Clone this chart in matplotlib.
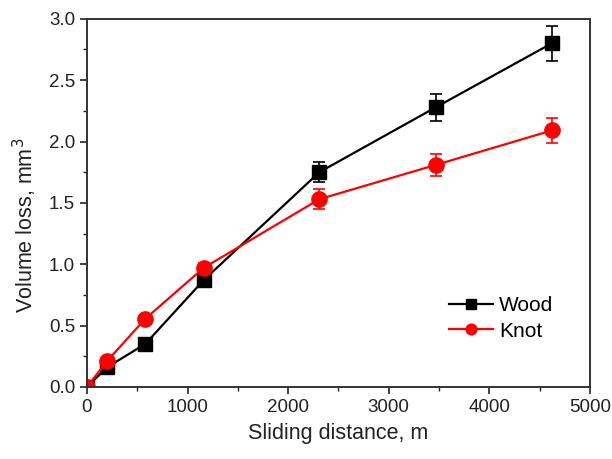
import numpy as np
import matplotlib.pyplot as plt
from matplotlib.ticker import MultipleLocator

plt.rcParams['font.family'] = ['Liberation Sans', 'DejaVu Sans']

distance = [0, 200, 580, 1160, 2310, 3470, 4620]
wood = [0.0, 0.16, 0.35, 0.87, 1.75, 2.28, 2.80]
wood_err = [0.0, 0.02, 0.03, 0.04, 0.08, 0.11, 0.14]
knot = [0.0, 0.21, 0.555, 0.97, 1.53, 1.81, 2.09]
knot_err = [0.0, 0.02, 0.03, 0.04, 0.08, 0.09, 0.105]

fig = plt.figure(figsize=(6.12, 4.59), dpi=100)
ax = fig.add_axes([0.142, 0.157, 0.822, 0.802])

eb_wood = ax.errorbar(distance, wood, yerr=wood_err, color='black', marker='s', markersize=10,
                      linewidth=1.6, capsize=4, elinewidth=1.2, capthick=1.2)
eb_knot = ax.errorbar(distance, knot, yerr=knot_err, color='#ff0000', marker='o', markersize=11,
                      linewidth=1.6, capsize=4, elinewidth=1.2, capthick=1.2)

ax.set_xlim(0, 5000)
ax.set_ylim(0, 3.0)
ax.xaxis.set_major_locator(MultipleLocator(1000))
ax.xaxis.set_minor_locator(MultipleLocator(500))
ax.yaxis.set_major_locator(MultipleLocator(0.5))
ax.yaxis.set_minor_locator(MultipleLocator(0.25))
ax.yaxis.set_major_formatter(plt.FormatStrFormatter('%.1f'))
ax.tick_params(which='major', direction='out', length=5, width=1.2, labelsize=13.5, colors='#222222')
ax.tick_params(which='minor', direction='out', length=3, width=1.0, colors='#222222')
for s in ax.spines.values():
    s.set_linewidth(1.4)
    s.set_color('#333333')

ax.set_xlabel('Sliding distance, m', fontsize=15.5, color='#222222', labelpad=5)
ax.set_ylabel('Volume loss, mm$^3$', fontsize=15.5, color='#222222', labelpad=5)
ax.yaxis.set_label_coords(-0.095, 0.44)

# legend without error bars, like the original
ax.legend([eb_wood.lines[0], eb_knot.lines[0]], ['Wood', 'Knot'],
          loc='lower right', bbox_to_anchor=(0.965, 0.075), frameon=False, fontsize=15,
          handlelength=2.1, handletextpad=0.3, labelspacing=0.3, markerscale=0.7)

fig.savefig('out.png', dpi=100)
